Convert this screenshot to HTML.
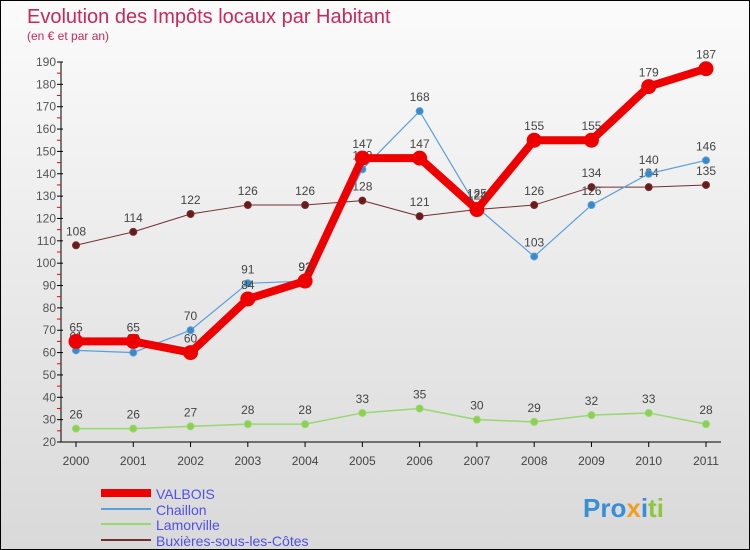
<!DOCTYPE html>
<html><head><meta charset="utf-8"><style>
body{margin:0}
#c{width:748px;height:548px;border:1px solid #000;background:linear-gradient(#fbfbfb,#d9d9d9);position:relative;font-family:"Liberation Sans",sans-serif;overflow:hidden}
text{font-family:"Liberation Sans",sans-serif}
</style></head><body>
<div id="c">
<svg id="s" width="748" height="548">
<text x="26" y="22" font-size="20" fill="#c8285a">Evolution des Impôts locaux par Habitant</text>
<text x="26" y="39" font-size="12" fill="#c8285a">(en € et par an)</text>
<g id="axes"></g><g id="series"></g>
<g>
<line x1="100" y1="492" x2="150" y2="492" stroke="#e00" stroke-width="8"/>
<text x="155" y="498" font-size="14" fill="#5050e8">VALBOIS</text>
<line x1="100" y1="508" x2="150" y2="508" stroke="#5aa0d8" stroke-width="2"/>
<text x="155" y="514" font-size="14" fill="#5050e8">Chaillon</text>
<line x1="100" y1="523" x2="150" y2="523" stroke="#98d870" stroke-width="2"/>
<text x="155" y="529" font-size="14" fill="#5050e8">Lamorville</text>
<line x1="100" y1="539" x2="150" y2="539" stroke="#703030" stroke-width="2"/>
<text x="155" y="545" font-size="14" fill="#5050e8">Buxières-sous-les-Côtes</text>
</g>
<text x="582" y="516" font-size="26" font-weight="bold"><tspan fill="#3a8ed8">Pro</tspan><tspan fill="#f0a020">x</tspan><tspan fill="#3a8ed8">i</tspan><tspan fill="#8cc83c">ti</tspan></text>
</svg></div>
<script>
const years=["2000","2001","2002","2003","2004","2005","2006","2007","2008","2009","2010","2011"];
const yTicks=[20,30,40,50,60,70,80,90,100,110,120,130,140,150,160,170,180,190];
const valbois=[65,65,60,84,92,147,147,124,155,155,179,187];
const chaillon=[61,60,70,91,92,142,168,125,103,126,140,146];
const lamorville=[26,26,27,28,28,33,35,30,29,32,33,28];
const buxieres=[108,114,122,126,126,128,121,124,126,134,134,135];
const NS="http://www.w3.org/2000/svg";
const X=i=>75+i*(630/11);
const Y=v=>441-(v-20)*(380/170);
function mk(tag,at,parent){const e=document.createElementNS(NS,tag);for(const k in at)e.setAttribute(k,at[k]);parent.appendChild(e);return e;}
const ax=document.getElementById('axes');
const yl=mk('line',{x1:60,y1:Y(190),x2:60,y2:441,stroke:'#000'},ax);


const xl=mk('line',{x1:60,y1:441,x2:720,y2:441,stroke:'#000'},ax);


yTicks.forEach(v=>{
 mk('line',{x1:56,y1:Y(v),x2:62,y2:Y(v),stroke:'#000'},ax);
 if(v<190)mk('line',{x1:56,y1:Y(v+5),x2:60,y2:Y(v+5),stroke:'#e00'},ax);
 const t=mk('text',{x:55,y:Y(v)+4,'font-size':12,fill:'#555','text-anchor':'end'},ax);t.textContent=v;
 
 
});
years.forEach((y,i)=>{
 mk('line',{x1:X(i),y1:441,x2:X(i),y2:446,stroke:'#000'},ax);
 const t=mk('text',{x:X(i),y:464,'font-size':12,fill:'#444','text-anchor':'middle'},ax);t.textContent=y;
 
 
});
const sg=document.getElementById('series');
function series(name,data,color,w,r,dot){
 const g=mk('g',{},sg);
 
 
 const p=mk('polyline',{points:data.map((v,i)=>X(i)+','+Y(v)).join(' '),fill:'none',stroke:color,'stroke-width':w,'stroke-linejoin':'round'},g);
 
 
 data.forEach((v,i)=>{
  const c=mk('circle',{cx:X(i),cy:Y(v),r:r,fill:dot,stroke:color,'stroke-width':1},g);
  
  
  const t=mk('text',{x:X(i),y:Y(v)-10,'font-size':12,fill:'#444','text-anchor':'middle'},g);t.textContent=v;
  
  
 });
}
series('lamorville',lamorville,'#98d870',1.5,3.5,'#8cd050');
series('buxieres',buxieres,'#703030',1,3.5,'#6a1a1a');
series('chaillon',chaillon,'#5aa0d8',1.2,3.5,'#3a88c8');
series('valbois',valbois,'#e00',8,7,'#e00');
</script>
</body></html>
